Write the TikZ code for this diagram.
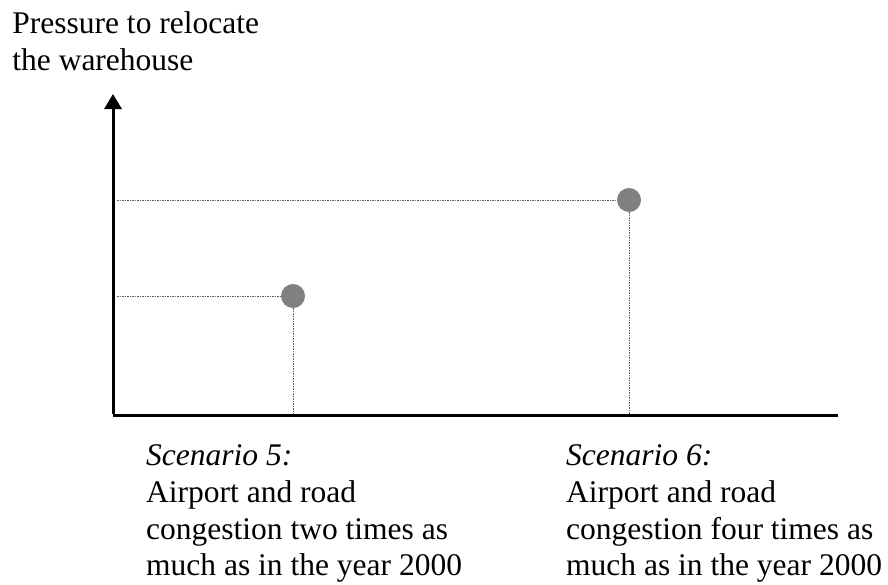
\documentclass[tikz,border=0pt]{standalone}
\usepackage{fontspec}
\setmainfont{Liberation Serif}
\usetikzlibrary{arrows.meta}
\definecolor{dotgray}{RGB}{128,128,128}
\definecolor{guidegray}{RGB}{95,95,95}
\begin{document}
\begin{tikzpicture}[x=1pt,y=-1pt,
  axis/.style={line width=3pt,black},
  guide/.style={line width=1pt,guidegray,dash pattern=on 1.5pt off 1pt},
  point/.style={circle,fill=dotgray,draw=none,minimum size=24pt,inner sep=0pt},
  txt/.style={anchor=base west,inner sep=0pt,font=\fontsize{31.5}{37}\selectfont}]
\useasboundingbox (0,0) rectangle (888,584);

% axes
\coordinate (O) at (113,415);
\coordinate (ytop) at (113,94);
\coordinate (xend) at (838,415);
\draw[axis] (O) -- (xend);
\draw[axis,-{Triangle[width=17pt,length=15pt]}] ([yshift=1.5pt]O) -- (ytop);

% scenario points
\node[point] (d5) at (293,296) {};
\node[point] (d6) at (629,200) {};

% guide lines to the axes
\coordinate (y5) at (117,296);
\coordinate (y6) at (117,200);
\coordinate (x5) at (293,413.5);
\coordinate (x6) at (629,413.5);
\draw[guide] (y5) -- (d5.west);
\draw[guide] (y6) -- (d6.west);
\draw[guide] (d5.south) -- (x5);
\draw[guide] (d6.south) -- (x6);

% axis title
\node[txt] (t1) at (12.2,33) {Pressure to relocate};
\node[txt] (t2) at (12.2,70.7) {the warehouse};

% scenario captions
\node[txt] (a1) at (146,465) {\itshape Scenario 5:};
\node[txt] (a2) at (146,502.5) {Airport and road};
\node[txt] (a3) at (146,539.5) {congestion two times as};
\node[txt] (a4) at (146,575) {much as in the year 2000};

\node[txt] (b1) at (566,465) {\itshape Scenario 6:};
\node[txt] (b2) at (566,502.5) {Airport and road};
\node[txt] (b3) at (566,539.5) {congestion four times as};
\node[txt] (b4) at (566,575) {much as in the year 2000};
\end{tikzpicture}
\end{document}
